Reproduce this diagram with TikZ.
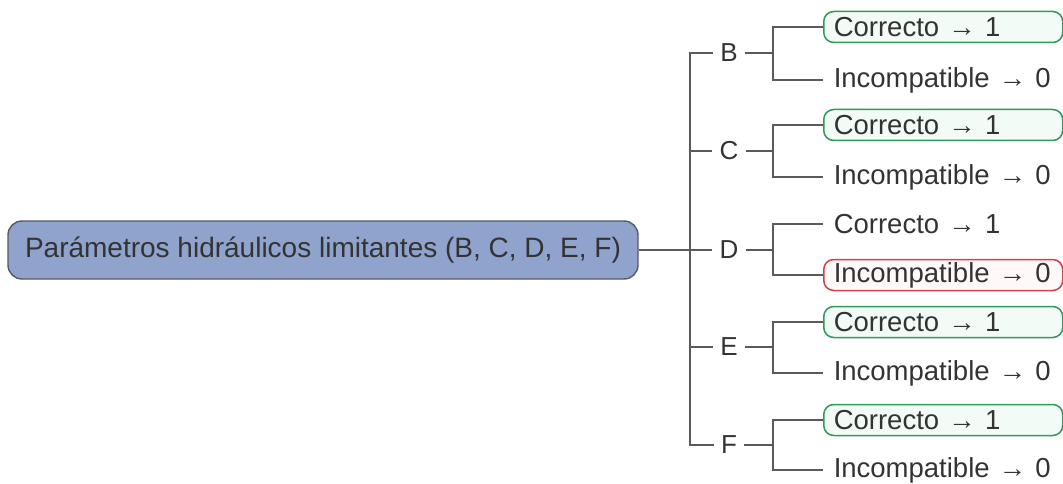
\documentclass[tikz,border=0pt]{standalone}
\usepackage{fontspec}
\setmainfont{Liberation Sans}
\begin{document}
\definecolor{rootfill}{HTML}{8FA3CC}
\definecolor{rootdraw}{HTML}{555A64}
\definecolor{linec}{HTML}{5A5A5A}
\definecolor{txt}{HTML}{333333}
\definecolor{okdraw}{HTML}{2E9A5C}
\definecolor{okfill}{HTML}{F3FBF6}
\definecolor{baddraw}{HTML}{D0404E}
\definecolor{badfill}{HTML}{FFF8F8}
\tikzset{
  rootbox/.style={draw=rootdraw, line width=1.4pt, fill=rootfill, rounded corners=14pt,
    minimum width=630pt, minimum height=58pt, inner sep=0pt, text=txt, font=\fontsize{28}{32}\selectfont},
  letter/.style={inner xsep=7pt, inner ysep=2pt, text=txt, font=\fontsize{26}{30}\selectfont},
  leaf/.style={anchor=west, text width=219pt, inner xsep=10pt, inner ysep=0pt, minimum height=31pt,
    align=left, text=txt, font=\fontsize{27.5}{31}\selectfont, rounded corners=10pt, line width=1.5pt},
  okleaf/.style={leaf, draw=okdraw, fill=okfill},
  badleaf/.style={leaf, draw=baddraw, fill=badfill},
  conn/.style={draw=linec, line width=1.1pt}
}
\begin{tikzpicture}[x=1pt,y=-1pt]
\useasboundingbox (0,0) rectangle (1063,484);
\node[rootbox] (root) at (323,250) {Parámetros hidráulicos limitantes (B, C, D, E, F)};
\coordinate (tt) at (690,53);
\coordinate (tb) at (690,445);
\foreach \n/\y in {B/53,C/151,D/250,E/347,F/445}{
  \node[letter] (\n) at (729,\y) {\n};
  \coordinate (k\n) at (773,\y);
}
% leaves
\node[okleaf]  (cB) at (823,27)  {Correcto → 1};
\node[leaf]    (iB) at (823,80)  {Incompatible → 0};
\node[okleaf]  (cC) at (823,125) {Correcto → 1};
\node[leaf]    (iC) at (823,177) {Incompatible → 0};
\node[leaf]    (cD) at (823,224) {Correcto → 1};
\node[badleaf] (iD) at (823,275) {Incompatible → 0};
\node[okleaf]  (cE) at (823,322) {Correcto → 1};
\node[leaf]    (iE) at (823,373) {Incompatible → 0};
\node[okleaf]  (cF) at (823,420) {Correcto → 1};
\node[leaf]    (iF) at (823,470) {Incompatible → 0};
% trunk
\draw[conn] (root.east) -- (D.west);
\draw[conn] (B.west) -- (tt) -- (tb) -- (F.west);
\draw[conn] (C.west) -- (C.west -| tt);
\draw[conn] (E.west) -- (E.west -| tt);
\foreach \n in {B,C,D,E,F}{
  \draw[conn] (\n.east) -- (k\n);
  \draw[conn] (c\n.west) -| (k\n) |- (i\n.west);
}
\end{tikzpicture}
\end{document}
